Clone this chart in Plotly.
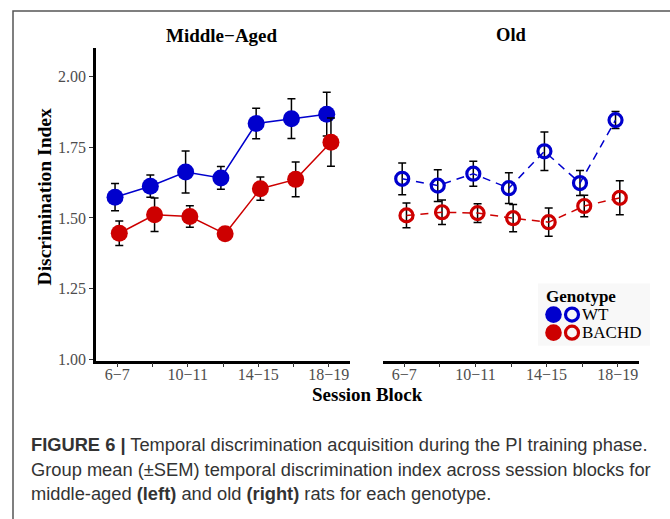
import plotly.graph_objects as go

# ---------------- data ----------------
blocks = ["6−7", "8−9", "10−11", "12−13", "14−15", "16−17", "18−19"]
tick_labels = ["6−7", "", "10−11", "", "14−15", "", "18−19"]

mid_wt_mean = [1.573, 1.612, 1.662, 1.641, 1.833, 1.850, 1.866]
mid_wt_sem = [0.048, 0.039, 0.074, 0.040, 0.054, 0.070, 0.077]
mid_bachd_mean = [1.446, 1.511, 1.505, 1.444, 1.603, 1.636, 1.767]
mid_bachd_sem = [0.043, 0.059, 0.038, 0.020, 0.041, 0.061, 0.085]

old_wt_mean = [1.638, 1.614, 1.656, 1.605, 1.735, 1.623, 1.845]
old_wt_sem = [0.056, 0.056, 0.044, 0.054, 0.068, 0.044, 0.030]
old_bachd_mean = [1.509, 1.520, 1.517, 1.499, 1.485, 1.542, 1.571]
old_bachd_sem = [0.044, 0.043, 0.033, 0.048, 0.050, 0.038, 0.060]

y_ticks = [1.00, 1.25, 1.50, 1.75, 2.00]

# ---------------- styling ----------------
W, H = 670, 519          # design coordinates (reference pixels)
FIG_H = 528              # rendered figure height
BLUE = "#0000CD"
RED = "#CD0000"
SERIF = "Liberation Serif, Times New Roman, serif"
SANS = "Liberation Sans, Arial, sans-serif"
DODGE = 0.06

pos = list(range(1, len(blocks) + 1))


def px(x):
    return x / W


def py(y):
    return 1 - y / H


fig = go.Figure()


def add_series(mean, sem, offset, color, filled, dash, xa, ya):
    xs = [p + offset for p in pos]
    marker = dict(
        symbol="circle" if filled else "circle-open",
        size=17 if filled else 13,
        color=color,
        line=dict(width=0 if filled else 3.2, color=color),
    )
    fig.add_trace(go.Scatter(
        x=xs, y=mean, mode="lines+markers",
        line=dict(color=color, width=1.5, dash=dash),
        marker=marker,
        error_y=dict(type="data", array=sem, visible=True,
                     color="black", thickness=1.5, width=4),
        xaxis=xa, yaxis=ya, showlegend=False, hoverinfo="skip",
    ))


add_series(mid_wt_mean, mid_wt_sem, -DODGE, BLUE, True, "solid", "x", "y")
add_series(mid_bachd_mean, mid_bachd_sem, DODGE, RED, True, "solid", "x", "y")
add_series(old_wt_mean, old_wt_sem, -DODGE, BLUE, False, "8px,6px", "x2", "y2")
add_series(old_bachd_mean, old_bachd_sem, DODGE, RED, False, "8px,6px", "x2", "y2")

y_dom = [py(360), py(48)]
y_rng = [0.9965, 2.099]

xaxis_common = dict(
    range=[0.4, 7.6], tickmode="array", tickvals=pos, ticktext=tick_labels,
    ticks="outside", ticklen=4, tickwidth=1, tickcolor="#333333",
    tickfont=dict(family=SERIF, size=16, color="#4D4D4D"),
    ticklabelstandoff=-7,
    showline=True, linecolor="black", linewidth=2.6,
    showgrid=False, zeroline=False, fixedrange=True,
)

fig.update_layout(
    width=W, height=FIG_H, autosize=False,
    margin=dict(l=0, r=0, t=0, b=0),
    paper_bgcolor="white", plot_bgcolor="white",
    xaxis=dict(domain=[px(96), px(350)], anchor="y", **xaxis_common),
    xaxis2=dict(domain=[px(383), px(639)], anchor="y2", **xaxis_common),
    yaxis=dict(
        domain=y_dom, range=y_rng, tickmode="array", tickvals=y_ticks,
        ticktext=[f"{v:.2f}" for v in y_ticks],
        ticks="outside", ticklen=4, tickwidth=1, tickcolor="#333333",
        tickfont=dict(family=SERIF, size=16, color="#4D4D4D"),
        showline=True, linecolor="black", linewidth=2.6,
        showgrid=False, zeroline=False, anchor="x", fixedrange=True,
    ),
    yaxis2=dict(
        domain=y_dom, range=y_rng, anchor="x2", matches="y",
        showticklabels=False, ticks="", showline=False,
        showgrid=False, zeroline=False, fixedrange=True,
    ),
)


def label(text, x, y, size, family=SERIF, color="black", xanchor="center", **kw):
    return dict(text=text, x=px(x), y=py(y), xref="paper", yref="paper",
                xanchor=xanchor, yanchor="middle", showarrow=False,
                font=dict(family=family, size=size, color=color), **kw)


annotations = [
    label("<b>Middle−Aged</b>", 222, 35, 19),
    label("<b>Old</b>", 511, 35, 18.5),
    label("<b>Discrimination Index</b>", 44, 197, 19.5, textangle=-90),
    label("<b>Session Block</b>", 367, 394, 19),
    # legend texts
    label("<b>Genotype</b>", 544, 296, 17, xanchor="left"),
    label("WT", 580, 314, 17, xanchor="left"),
    label("BACHD", 580, 332, 17, xanchor="left"),
]

caption_lines = [
    "<b>FIGURE 6 |</b> Temporal discrimination acquisition during the PI training phase.",
    "Group mean (±SEM) temporal discrimination index across session blocks for",
    "middle-aged <b>(left)</b> and old <b>(right)</b> rats for each genotype.",
]
for i, line in enumerate(caption_lines):
    annotations.append(label(line, 29, 444 + 24.5 * i, 18.3, family=SANS,
                             color="#333333", xanchor="left"))

fig.update_layout(annotations=annotations)

shapes = [
    # figure frame (left and top)
    dict(type="path", path=f"M {px(13)},{py(519)} L {px(13)},{py(11)} L {px(670)},{py(11)}",
         xref="paper", yref="paper", line=dict(color="#555555", width=1.5)),
    # legend background
    dict(type="rect", x0=px(538), x1=px(650), y0=py(345), y1=py(283),
         xref="paper", yref="paper", fillcolor="#F8F8F8", line=dict(width=0), layer="below"),
]


def circle(cx, cy, r, color, filled):
    return dict(type="circle", xref="paper", yref="paper",
                x0=px(cx - r), x1=px(cx + r), y0=py(cy + r), y1=py(cy - r),
                fillcolor=color if filled else "rgba(0,0,0,0)",
                line=dict(color=color, width=0 if filled else 3.2))


shapes += [
    circle(553.5, 314, 8.3, BLUE, True),
    circle(572.0, 314, 6.5, BLUE, False),
    circle(553.5, 332, 8.3, RED, True),
    circle(572.0, 332, 6.5, RED, False),
]
fig.update_layout(shapes=shapes)

post = (
    "var de=document.documentElement, b=document.body;"
    "de.style.margin='0';de.style.padding='0';de.style.overflow='hidden';"
    "b.style.margin='0';b.style.padding='0';b.style.overflow='hidden';"
)
fig.write_html(
    "out.html",
    config={"responsive": False, "displayModeBar": False},
    default_width=f"{W}px", default_height=f"{FIG_H}px",
    post_script=post,
)
